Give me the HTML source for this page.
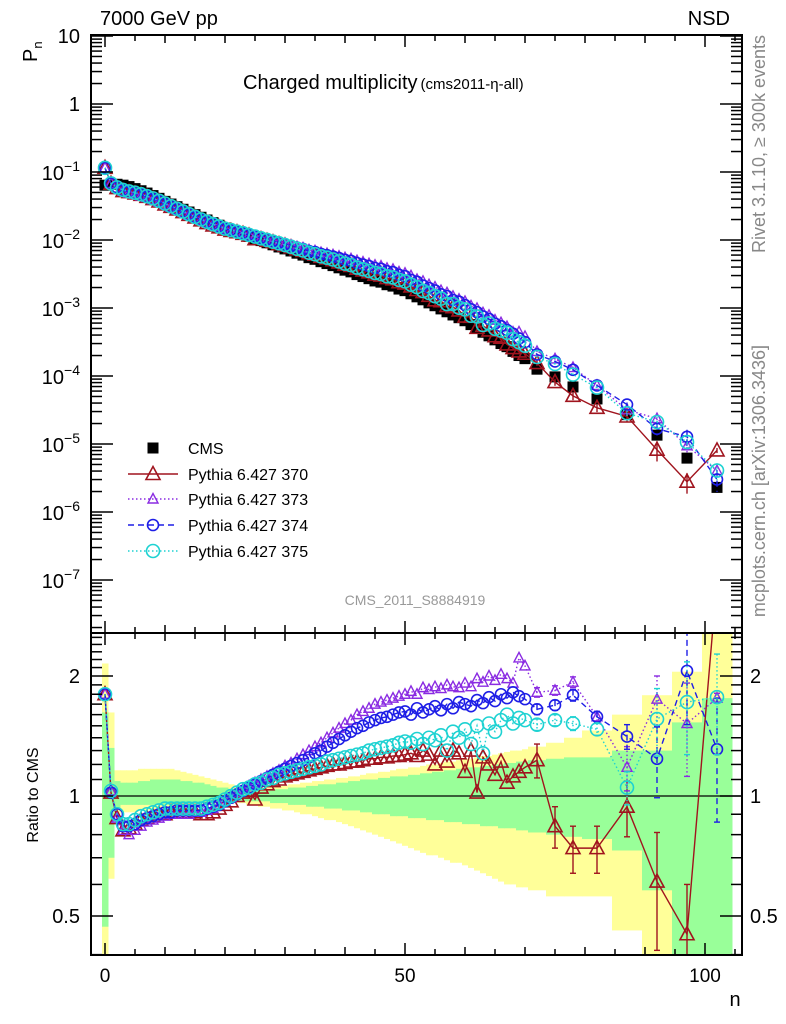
<!DOCTYPE html>
<html><head><meta charset="utf-8"><style>
body{margin:0;background:#fff;}
svg{display:block;font-family:"Liberation Sans",sans-serif;}
</style></head><body>
<svg id="chart" width="786" height="1024" viewBox="0 0 786 1024" xmlns="http://www.w3.org/2000/svg"></svg>
<script>
const nVals=[0,1,2,3,4,5,6,7,8,9,10,11,12,13,14,15,16,17,18,19,20,21,22,23,24,25,26,27,28,29,30,31,32,33,34,35,36,37,38,39,40,41,42,43,44,45,46,47,48,49,50,51,52,53,54,55,56,57,58,59,60,61,62,63,64,65,66,67,68,69,70,72,75,78,82,87,92,97,102];
const binLo=[70.5,73.5,76.5,79.5,84.5,89.5,94.5,99.5];
const binHi=[73.5,76.5,79.5,84.5,89.5,94.5,99.5,104.5];
const cmsP=[0.064,0.066,0.066,0.064,0.061,0.057,0.053,0.049,0.045,0.041,
0.037,0.0338,0.0309,0.0283,0.0258,0.0236,0.0216,0.0197,0.018,0.0165,
0.015,0.014,0.013,0.0121,0.0113,0.0105,0.0098,0.0091,0.0085,0.0079,
0.0074,0.0069,0.0064,0.006,0.0055,0.0052,0.0048,0.0045,0.0042,0.0039,
0.0036,0.0034,0.0031,0.0029,0.0027,0.0025,0.0024,0.0022,0.0021,0.0019,
0.0018,0.00162,0.00146,0.00132,0.00119,0.00108,0.00097,0.00088,0.00079,0.00072,
0.00065,0.00057,0.0005,0.00044,0.00039,0.00034,0.0003,0.00027,0.00023,0.0002,
0.00018,
1.26e-4,9.7e-5,6.9e-5,4.6e-5,2.7e-5,1.35e-5,6.2e-6,2.3e-6];
const r370=[1.8,1.02,0.88,0.82,0.83,0.85,0.87,0.88,0.89,0.9,
0.9,0.91,0.91,0.91,0.91,0.91,0.9,0.9,0.91,0.93,
0.95,0.97,1.0,1.02,1.03,0.98,1.05,1.07,1.09,1.1,
1.12,1.13,1.14,1.15,1.16,1.17,1.18,1.19,1.2,1.2,
1.21,1.22,1.22,1.23,1.24,1.24,1.25,1.25,1.26,1.26,
1.27,1.28,1.26,1.3,1.27,1.2,1.3,1.22,1.3,1.28,
1.15,1.3,1.02,1.25,1.2,1.13,1.22,1.08,1.12,1.15,
1.18,
1.23,0.84,0.74,0.74,0.94,0.61,0.45,3.5];
const r373=[1.8,1.03,0.88,0.82,0.8,0.82,0.84,0.86,0.87,0.88,
0.89,0.9,0.9,0.9,0.9,0.91,0.91,0.92,0.93,0.95,
0.97,0.99,1.02,1.04,1.06,1.08,1.1,1.12,1.14,1.16,
1.19,1.21,1.24,1.27,1.3,1.33,1.36,1.4,1.44,1.48,
1.52,1.55,1.6,1.63,1.66,1.7,1.72,1.74,1.76,1.78,
1.8,1.83,1.8,1.87,1.85,1.88,1.86,1.9,1.88,1.87,
1.92,1.88,1.97,1.93,2.0,1.95,2.02,1.97,1.92,2.22,
2.12,
1.82,1.84,1.93,1.58,1.18,1.75,1.52,1.76];
const r374=[1.8,1.02,0.9,0.84,0.84,0.85,0.87,0.88,0.89,0.9,
0.91,0.91,0.92,0.92,0.92,0.92,0.92,0.93,0.94,0.95,
0.97,0.99,1.01,1.03,1.05,1.07,1.09,1.11,1.13,1.15,
1.17,1.19,1.21,1.23,1.25,1.28,1.3,1.33,1.36,1.39,
1.42,1.45,1.48,1.5,1.53,1.55,1.57,1.58,1.6,1.62,
1.63,1.6,1.66,1.62,1.65,1.68,1.64,1.7,1.66,1.72,
1.7,1.68,1.74,1.71,1.77,1.73,1.8,1.76,1.82,1.78,
1.75,
1.65,1.69,1.79,1.58,1.41,1.24,2.06,1.31];
const r375=[1.8,1.03,0.9,0.85,0.85,0.87,0.89,0.9,0.91,0.92,
0.93,0.93,0.93,0.93,0.93,0.93,0.93,0.94,0.95,0.96,
0.98,1.0,1.02,1.04,1.05,1.07,1.08,1.1,1.11,1.13,
1.14,1.15,1.16,1.17,1.18,1.19,1.2,1.22,1.23,1.24,
1.25,1.26,1.27,1.28,1.3,1.31,1.32,1.33,1.34,1.36,
1.37,1.36,1.39,1.35,1.4,1.38,1.42,1.3,1.45,1.4,
1.47,1.35,1.5,1.28,1.52,1.45,1.55,1.6,1.52,1.57,
1.55,
1.51,1.55,1.52,1.47,1.05,1.56,1.72,1.77];
const tailErr370=[0.12,0.1,0.1,0.1,0.15,0.2,0.15,0.3];
const tailErr373=[0.05,0.05,0.06,0.05,0.15,0.25,0.4,0.05];
const tailErr374=[0.05,0.05,0.06,0.05,0.1,0.25,0.55,0.45];
const tailErr375=[0.05,0.05,0.06,0.05,0.1,0.3,0.45,0.5];
const gU=[1.62,1.32,1.09,1.08,1.08,1.08,1.09,1.09,1.1,1.1,
1.1,1.1,1.1,1.09,1.09,1.08,1.08,1.07,1.06,1.05,
1.05,1.04,1.04,1.03,1.03,1.03,1.03,1.03,1.04,1.04,
1.04,1.05,1.05,1.05,1.06,1.06,1.07,1.07,1.07,1.08,
1.08,1.09,1.09,1.1,1.1,1.1,1.11,1.11,1.12,1.12,
1.12,1.13,1.13,1.14,1.14,1.15,1.15,1.16,1.16,1.17,
1.17,1.18,1.18,1.19,1.19,1.2,1.2,1.21,1.21,1.22,
1.22,
1.23,1.24,1.25,1.25,1.3,1.3,1.53,1.76];
const gD=[0.47,0.7,0.93,0.95,0.95,0.95,0.95,0.95,0.95,0.95,
0.95,0.95,0.95,0.96,0.96,0.96,0.96,0.96,0.97,0.97,
0.97,0.97,0.97,0.97,0.97,0.97,0.97,0.97,0.96,0.96,
0.96,0.95,0.95,0.95,0.94,0.94,0.94,0.93,0.93,0.93,
0.92,0.92,0.92,0.91,0.91,0.9,0.9,0.9,0.89,0.89,
0.89,0.88,0.88,0.88,0.87,0.87,0.87,0.86,0.86,0.86,
0.85,0.85,0.85,0.84,0.84,0.84,0.83,0.83,0.83,0.82,
0.82,
0.81,0.8,0.79,0.78,0.73,0.58,0.35,0.35];
const yU=[2.15,1.62,1.16,1.16,1.16,1.16,1.17,1.17,1.17,1.17,
1.17,1.17,1.16,1.15,1.14,1.13,1.12,1.11,1.1,1.09,
1.08,1.07,1.06,1.06,1.05,1.05,1.05,1.05,1.06,1.06,
1.06,1.07,1.07,1.08,1.08,1.09,1.09,1.1,1.1,1.11,
1.11,1.12,1.12,1.13,1.14,1.14,1.15,1.15,1.16,1.17,
1.17,1.18,1.18,1.19,1.2,1.2,1.21,1.22,1.22,1.23,
1.24,1.24,1.25,1.26,1.26,1.27,1.28,1.29,1.3,1.3,
1.31,
1.33,1.36,1.4,1.46,1.6,1.79,2.05,2.6];
const yD=[0.35,0.62,0.9,0.91,0.91,0.91,0.92,0.92,0.92,0.93,
0.93,0.93,0.94,0.94,0.94,0.95,0.95,0.95,0.95,0.96,
0.96,0.96,0.96,0.96,0.95,0.95,0.94,0.94,0.93,0.93,
0.92,0.92,0.91,0.9,0.9,0.89,0.88,0.87,0.87,0.86,
0.85,0.84,0.83,0.82,0.81,0.8,0.79,0.78,0.77,0.76,
0.75,0.74,0.73,0.72,0.71,0.71,0.7,0.69,0.68,0.68,
0.67,0.66,0.65,0.64,0.63,0.62,0.61,0.6,0.6,0.59,
0.59,
0.58,0.56,0.56,0.56,0.46,0.35,0.35,0.35];

const NS='http://www.w3.org/2000/svg';
const svg=document.getElementById('chart');
const L=91,R=742,T1=35,B1=633,T2=633,B2=955;
function X(n){return 105+6*n;}
function Y1(p){return 104-68*Math.log10(p);}
function Y2(r){return 796-120*Math.log2(r);}
function el(tag,attrs,parent){const e=document.createElementNS(NS,tag);for(const k in attrs)e.setAttribute(k,attrs[k]);(parent||svg).appendChild(e);return e;}
function txt(s,x,y,size,attrs,parent){const t=el('text',Object.assign({x:x,y:y,'font-size':size},attrs||{}),parent);t.textContent=s;return t;}

const defs=el('defs',{});
const c1=el('clipPath',{id:'clipTop'},defs);el('rect',{x:L,y:T1,width:R-L,height:B1-T1},c1);
const c2=el('clipPath',{id:'clipBot'},defs);el('rect',{x:L,y:T2,width:R-L,height:B2-T2},c2);

function binEdges(i){if(i<=70)return [nVals[i]-0.5,nVals[i]+0.5];return [binLo[i-71],binHi[i-71]];}

const bandG=el('g',{'clip-path':'url(#clipBot)'});


for(let i=0;i<nVals.length;i++){
  const [a,b]=binEdges(i);
  const r1=el('rect',{x:X(a),y:Y2(yU[i]),width:X(b)-X(a)+0.5,height:Y2(yD[i])-Y2(yU[i]),fill:'#ffff99'},bandG);
  
  
}
for(let i=0;i<nVals.length;i++){
  const [a,b]=binEdges(i);
  const r2=el('rect',{x:X(a),y:Y2(gU[i]),width:X(b)-X(a)+0.5,height:Y2(gD[i])-Y2(gU[i]),fill:'#99ff99'},bandG);
  
  
}
el('line',{x1:L,x2:R,y1:Y2(1),y2:Y2(1),stroke:'#000','stroke-width':1.2});

function marker(kind,x,y,color,parent){
  let m;
  if(kind==='sq'){m=el('rect',{x:x-5.5,y:y-5.5,width:11,height:11,fill:'#000'},parent);}
  else if(kind==='triBig'){m=el('polygon',{points:`${x-7},${y+5.5} ${x+7},${y+5.5} ${x},${y-7.5}`,fill:'none',stroke:color,'stroke-width':1.6},parent);}
  else if(kind==='triSmall'){m=el('polygon',{points:`${x-5},${y+4} ${x+5},${y+4} ${x},${y-5.5}`,fill:'none',stroke:color,'stroke-width':1.4},parent);}
  else if(kind==='circ'){m=el('circle',{cx:x,cy:y,r:5.5,fill:'none',stroke:color,'stroke-width':1.6},parent);}
  else {m=el('circle',{cx:x,cy:y,r:6.5,fill:'none',stroke:color,'stroke-width':1.6},parent);}
  return m;
}
const series=[
 {name:'pythia-370',r:r370,err:tailErr370,color:'#a0141e',kind:'triBig',dash:''},
 {name:'pythia-373',r:r373,err:tailErr373,color:'#8a2be2',kind:'triSmall',dash:'1.5,2.5'},
 {name:'pythia-374',r:r374,err:tailErr374,color:'#1e1ee6',kind:'circ',dash:'6,4'},
 {name:'pythia-375',r:r375,err:tailErr375,color:'#1ed2d2',kind:'circBig',dash:'1.5,2.5'}
];

const topG=el('g',{'clip-path':'url(#clipTop)'});


for(let i=0;i<nVals.length;i++){
  const m=marker('sq',X(nVals[i]),Y1(cmsP[i]),'#000',topG);
  
  
}
series.forEach(s=>{
  const g=el('g',{},topG);
  
  
  const pts=nVals.map((n,i)=>X(n)+','+Y1(cmsP[i]*s.r[i])).join(' ');
  el('polyline',{points:pts,fill:'none',stroke:s.color,'stroke-width':1.4,'stroke-dasharray':s.dash},g);
  for(let i=0;i<nVals.length;i++){
    const x=X(nVals[i]),y=Y1(cmsP[i]*s.r[i]);
    if(i>70){const e=s.err[i-71];
      el('line',{x1:x,x2:x,y1:Y1(cmsP[i]*(s.r[i]+e)),y2:Y1(cmsP[i]*Math.max(s.r[i]-e,0.05)),stroke:s.color,'stroke-width':1.4,'stroke-dasharray':s.dash},g);}
    const m=marker(s.kind,x,y,s.color,g);
    
    
  }
});

const botG=el('g',{'clip-path':'url(#clipBot)'});


series.forEach(s=>{
  const g=el('g',{},botG);
  
  
  const pts=nVals.map((n,i)=>X(n)+','+Y2(s.r[i])).join(' ');
  el('polyline',{points:pts,fill:'none',stroke:s.color,'stroke-width':1.4,'stroke-dasharray':s.dash},g);
  for(let i=0;i<nVals.length;i++){
    const x=X(nVals[i]),y=Y2(s.r[i]);
    if(i>70){const e=s.err[i-71];
      const y1=Y2(s.r[i]+e),y2=Y2(Math.max(s.r[i]-e,0.3));
      el('line',{x1:x,x2:x,y1:y1,y2:y2,stroke:s.color,'stroke-width':1.4,'stroke-dasharray':s.dash},g);
      el('line',{x1:x-3,x2:x+3,y1:y1,y2:y1,stroke:s.color,'stroke-width':1.4},g);
      el('line',{x1:x-3,x2:x+3,y1:y2,y2:y2,stroke:s.color,'stroke-width':1.4},g);}
    const m=marker(s.kind,x,y,s.color,g);
    
    
  }
});

el('rect',{x:L,y:T1,width:R-L,height:B1-T1,fill:'none',stroke:'#000','stroke-width':2});
el('rect',{x:L,y:T2,width:R-L,height:B2-T2,fill:'none',stroke:'#000','stroke-width':2});

const xt=el('g',{stroke:'#000','stroke-width':1.5});


for(let n=0;n<=105;n+=5){
  const x=X(n),len=(n%50===0)?12:(n%10===0?8:6);
  [[T1,1],[B1,-1],[T2,1],[B2,-1]].forEach(([y,d])=>el('line',{x1:x,x2:x,y1:y,y2:y+d*len},xt));
}
const xLabels=['0','50','100'];
const xLabelVals=[0,50,100];
xLabelVals.forEach((v,i)=>{const t=txt(xLabels[i],X(v),982,19,{'text-anchor':'middle'});
  
  });
const xTitle=txt('n',735,1006,20,{'text-anchor':'middle'});



const yt=el('g',{stroke:'#000','stroke-width':1.5});


for(let d=-8;d<=1;d++){
  for(let k=1;k<=9;k++){
    const y=Y1(k*Math.pow(10,d));
    if(y<T1||y>B1)continue;
    const len=k===1?22:11;
    el('line',{x1:L,x2:L+len,y1:y,y2:y},yt);
    el('line',{x1:R,x2:R-len,y1:y,y2:y},yt);
  }
}
const decExp=[1,0,-1,-2,-3,-4,-5,-6,-7];
decExp.forEach(e=>{
  const y=Y1(Math.pow(10,e));
  let tt;
  if(e===1) tt=txt('10',80,y+7,20,{'text-anchor':'end'});
  else if(e===0) tt=txt('1',80,y+7,20,{'text-anchor':'end'});
  else {tt=el('text',{x:80,y:y+8,'font-size':20,'text-anchor':'end'});
    const a=el('tspan',{},tt);a.textContent='10';
    const b=el('tspan',{dy:-9,'font-size':14},tt);b.textContent='\u2212'+(-e);}
  
  
});
const rTicks=[0.4,0.5,0.6,0.7,0.8,0.9,1,1.1,1.2,1.3,1.4,1.5,1.6,1.7,1.8,1.9,2,2.1,2.2,2.3,2.4,2.5];
rTicks.forEach(r=>{const y=Y2(r);if(y<T2||y>B2)return;
  const len=(r===0.5||r===1||r===2)?22:11;
  el('line',{x1:L,x2:L+len,y1:y,y2:y},yt);el('line',{x1:R,x2:R-len,y1:y,y2:y},yt);});
const rLabels=['0.5','1','2'];
const rLabelVals=[0.5,1,2];
rLabelVals.forEach((v,i)=>{
  const a=txt(rLabels[i],80,Y2(v)+7,20,{'text-anchor':'end'});
  
  
  const b=txt(rLabels[i],750,Y2(v)+7,20,{'text-anchor':'start'});
  
  
});

let tx;
tx=txt('7000 GeV pp',100,25,20,{});
tx=txt('NSD',730,25,20,{'text-anchor':'end'});
tx=el('text',{x:0,y:0,'font-size':20,transform:'translate(37,62) rotate(-90)'});


(function(){const a=el('tspan',{},tx);a.textContent='P';const b=el('tspan',{dy:5,'font-size':13},tx);b.textContent='n';})();
tx=el('text',{x:243,y:89,'font-size':20});


(function(){const a=el('tspan',{},tx);a.textContent='Charged multiplicity';const b=el('tspan',{'font-size':15,dx:3},tx);b.textContent='(cms2011-\u03b7-all)';})();
tx=txt('Rivet 3.1.10, \u2265 300k events',0,0,18,{fill:'#888','text-anchor':'end',transform:'translate(765,35) rotate(-90)'});

tx=txt('mcplots.cern.ch [arXiv:1306.3436]',0,0,18,{fill:'#888','text-anchor':'end',transform:'translate(765,345) rotate(-90)'});

tx=txt('CMS_2011_S8884919',415,605,14,{fill:'#999','text-anchor':'middle'});

tx=txt('Ratio to CMS',0,0,16,{'text-anchor':'middle',transform:'translate(38,795) rotate(-90)'});


const lg=el('g',{});


const legNames=['CMS','Pythia 6.427 370','Pythia 6.427 373','Pythia 6.427 374','Pythia 6.427 375'];
const legY=[448,474,499,525,551];
legNames.forEach((nm,i)=>{
  const g=el('g',{},lg);
  
  
  if(i===0){marker('sq',153,legY[i],'#000',g);}
  else{const s=series[i-1];
    el('line',{x1:128,x2:178,y1:legY[i],y2:legY[i],stroke:s.color,'stroke-width':1.4,'stroke-dasharray':s.dash},g);
    marker(s.kind,153,legY[i],s.color,g);}
  txt(nm,188,legY[i]+6,16,{},g);
});
</script>
</body></html>
